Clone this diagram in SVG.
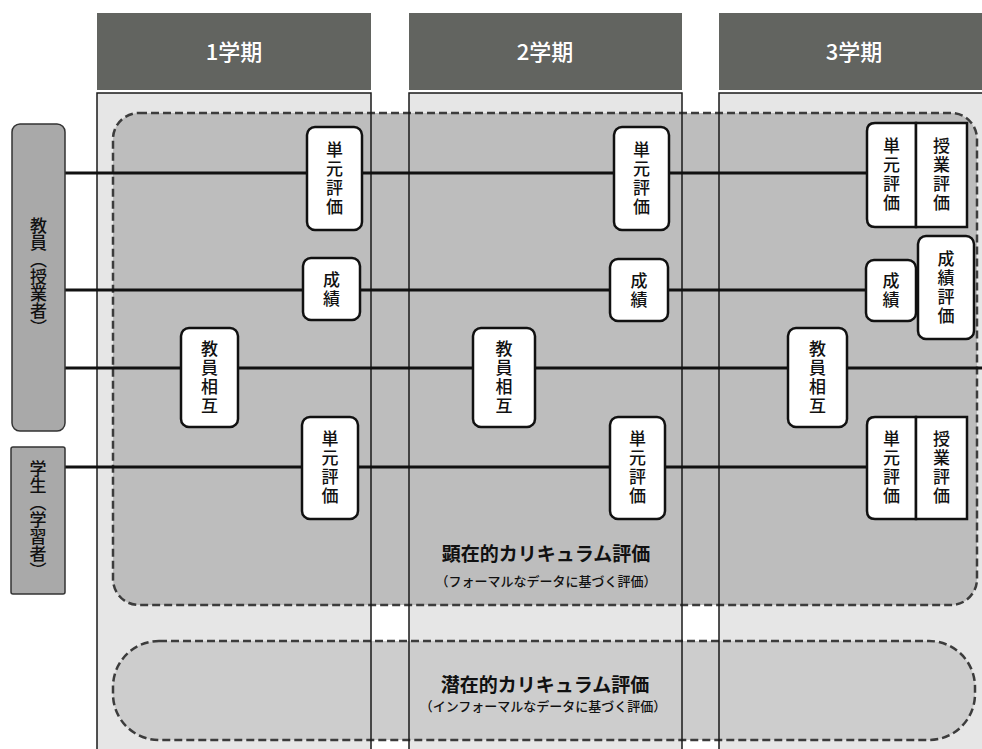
<svg xmlns="http://www.w3.org/2000/svg" width="982" height="749" viewBox="0 0 982 749">
<defs>
<style>
.hdr{fill:#626460;}
.hdrt{fill:#ffffff;font-family:"Noto Sans CJK JP","Noto Sans",sans-serif;font-size:22px;font-weight:500;text-anchor:middle;}
.col{fill:#e6e6e6;stroke:none;}
.colb{fill:none;stroke:#1a1a1a;stroke-width:1.5;}
.zone{stroke:#3c3c3c;stroke-width:2.5;stroke-dasharray:8 4;}
.conn{stroke:#111;stroke-width:3;fill:none;}
.node{fill:#ffffff;stroke:#111;stroke-width:2.5;}
.vt{font-family:"Noto Sans CJK JP",sans-serif;font-size:17px;font-weight:500;fill:#111;writing-mode:vertical-rl;text-anchor:middle;letter-spacing:2px;}
.lbl{fill:#a9a9a9;stroke:#333;stroke-width:1.5;}
.big{font-family:"Noto Sans CJK JP",sans-serif;font-size:19px;font-weight:700;fill:#111;text-anchor:middle;}
.sub{font-family:"Noto Sans CJK JP",sans-serif;font-size:13px;font-weight:500;fill:#111;text-anchor:middle;}
</style>
</defs>
<rect width="982" height="749" fill="#ffffff"/>
<g id="columns">
<rect class="col" x="97" y="93" width="274" height="660"/>
<rect class="col" x="409" y="93" width="273" height="660"/>
<rect class="col" x="719" y="93" width="270" height="660"/>
</g>
<g id="headers">
<rect class="hdr" x="97" y="13" width="274" height="77"/>
<text class="hdrt" x="234" y="60">1学期</text>
<rect class="hdr" x="409" y="13" width="273" height="77"/>
<text class="hdrt" x="545" y="60">2学期</text>
<rect class="hdr" x="719" y="13" width="270" height="77"/>
<text class="hdrt" x="854" y="60">3学期</text>
</g>
<g id="zones">
<rect id="explicit" class="zone" x="113" y="113" width="864" height="492" rx="26" fill="#bdbdbd"/>
<rect id="implicit" class="zone" x="113" y="641" width="862" height="99" rx="46" fill="#cdcdcd"/>
</g>
<g id="column-borders">
<rect class="colb" x="97" y="93" width="274" height="660"/>
<rect class="colb" x="409" y="93" width="273" height="660"/>
<rect class="colb" x="719" y="93" width="270" height="660"/>
</g>
<g id="zone-labels">
<text class="big" x="546" y="561">顕在的カリキュラム評価</text>
<text class="sub" x="546" y="586">（フォーマルなデータに基づく評価）</text>
<text class="big" x="545" y="692">潜在的カリキュラム評価</text>
<text class="sub" x="543" y="711">（インフォーマルなデータに基づく評価）</text>
</g>
<g id="connectors">
<line class="conn" x1="65" y1="173" x2="867" y2="173"/>
<line class="conn" x1="65" y1="290" x2="866" y2="290"/>
<line class="conn" x1="65" y1="368" x2="982" y2="368"/>
<line class="conn" x1="65" y1="467" x2="867" y2="467"/>
</g>
<g id="teacher">
<rect class="lbl" x="12" y="124" width="53" height="307" rx="8"/>
<text class="vt" x="38.5" y="277" style="letter-spacing:0px">教員（授業者）</text>
</g>
<g id="student">
<rect class="lbl" x="11" y="447" width="54" height="147" rx="2"/>
<text class="vt" x="38" y="520" style="letter-spacing:0px">学生（学習者）</text>
</g>
<g id="t1-unit">
<rect class="node" x="307" y="127" width="55" height="103" rx="8"/>
<text class="vt" x="334.5" y="179">単元評価</text>
</g>
<g id="t1-grade">
<rect class="node" x="303" y="258" width="57" height="62" rx="8"/>
<text class="vt" x="331.5" y="290">成績</text>
</g>
<g id="t1-peer">
<rect class="node" x="181" y="328" width="57" height="99" rx="8"/>
<text class="vt" x="209.5" y="378">教員相互</text>
</g>
<g id="t1-student-unit">
<rect class="node" x="302" y="417" width="56" height="102" rx="8"/>
<text class="vt" x="330" y="468">単元評価</text>
</g>
<g id="t2-unit">
<rect class="node" x="614" y="127" width="55" height="103" rx="8"/>
<text class="vt" x="641.5" y="179">単元評価</text>
</g>
<g id="t2-grade">
<rect class="node" x="610" y="259" width="58" height="62" rx="8"/>
<text class="vt" x="639" y="291">成績</text>
</g>
<g id="t2-peer">
<rect class="node" x="473" y="328" width="62" height="99" rx="8"/>
<text class="vt" x="504" y="378">教員相互</text>
</g>
<g id="t2-student-unit">
<rect class="node" x="610" y="417" width="55" height="102" rx="8"/>
<text class="vt" x="637.5" y="468">単元評価</text>
</g>
<g id="t3-unit">
<path class="node" d="M916,123 H875 Q867,123 867,131 V219 Q867,227 875,227 H916 Z"/>
<text class="vt" x="891.5" y="175">単元評価</text>
</g>
<g id="t3-class-eval">
<rect class="node" x="916" y="123" width="51" height="104"/>
<text class="vt" x="941.5" y="175">授業評価</text>
</g>
<g id="t3-grade">
<rect class="node" x="866" y="260" width="50" height="61" rx="8"/>
<text class="vt" x="891" y="291">成績</text>
</g>
<g id="t3-grade-eval">
<rect class="node" x="918" y="236" width="56" height="103" rx="8"/>
<text class="vt" x="946" y="288">成績評価</text>
</g>
<g id="t3-peer">
<rect class="node" x="788" y="328" width="59" height="99" rx="8"/>
<text class="vt" x="817.5" y="378">教員相互</text>
</g>
<g id="t3-student-unit">
<path class="node" d="M916,417 H875 Q867,417 867,425 V511 Q867,519 875,519 H916 Z"/>
<text class="vt" x="891.5" y="468">単元評価</text>
</g>
<g id="t3-student-class-eval">
<rect class="node" x="916" y="417" width="51" height="102"/>
<text class="vt" x="941.5" y="468">授業評価</text>
</g>
</svg>
